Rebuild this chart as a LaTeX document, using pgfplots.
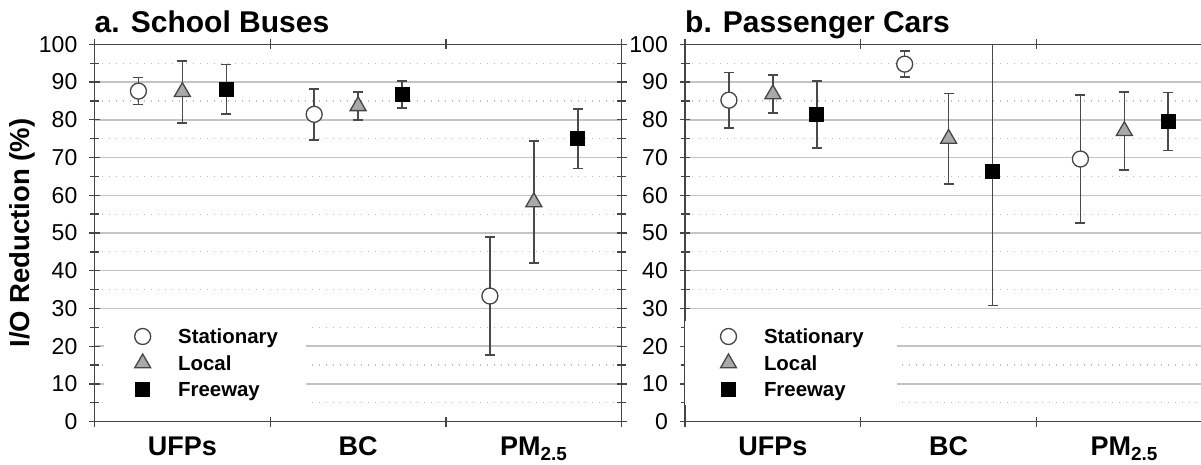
\documentclass[border=0pt]{standalone}
\usepackage{fontspec}
\setmainfont{Liberation Sans}
\usepackage{pgfplots}
\pgfplotsset{compat=1.18}
\definecolor{axisgray}{HTML}{454545}
\definecolor{gridgray}{HTML}{C4C4C4}
\definecolor{mingray}{HTML}{BDBDBD}
\definecolor{errgray}{HTML}{4A4A4A}
\definecolor{trigray}{HTML}{A9A9A9}
\pgfplotsset{
  panel/.style={
    scale only axis, width=527.2pt, height=377.4pt,
    xmin=0, xmax=3, ymin=0, ymax=100,
    xtick={0,1,2,3}, xticklabels={UFPs,BC,PM\textsubscript{2.5}},
    x tick label as interval,
    ytick={0,10,...,100}, minor ytick={5,15,...,95},
    ymajorgrids, yminorgrids,
    major grid style={draw=gridgray, line width=1.5pt},
    minor grid style={draw=mingray, line width=1.2pt, dash pattern=on 1.4pt off 5.6pt},
    axis line style={draw=axisgray, line width=1.5pt},
    tick style={draw=axisgray, line width=1.3pt},
    major tick length=10pt, minor tick length=9pt, tick align=center,
    /pgf/number format/assume math mode=true,
    yticklabel style={font=\fontsize{23}{23}\selectfont, inner xsep=0pt, xshift=-12pt},
    xticklabel style={font=\fontsize{27}{27}\selectfont\bfseries, text height=19.5pt, inner sep=0pt, yshift=-9pt},
    error bars/y dir=both, error bars/y explicit,
    error bars/error bar style={draw=errgray, line width=1.6pt},
    error bars/error mark options={rotate=90, draw=errgray, line width=1.6pt, mark size=5pt},
    legend style={fill=white, draw=none, anchor=south west, inner ysep=5pt,
      font=\fontsize{20.4}{20.4}\selectfont\bfseries, cells={anchor=west},
      nodes={inner sep=0pt, text height=17pt, text depth=3pt}, row sep=6.7pt,
      /tikz/every odd column/.append style={column sep=25.5pt}},
    legend image code/.code={\path[draw=none, fill=none] (-10pt,-8pt) rectangle (10pt,8pt); \draw[##1] plot coordinates {(0pt,0pt)};},
  },
  stat/.style={only marks, mark=*, mark size=8pt, mark options={fill=white, draw=axisgray, line width=1.3pt}},
  loc/.style={only marks, mark=triangle*, mark size=9.2pt, mark options={fill=trigray, draw=axisgray, line width=1.3pt}},
  free/.style={only marks, mark=square*, mark size=7pt, mark options={fill=black, draw=black, line width=1pt}},
}
\begin{document}
\begin{tikzpicture}
\begin{axis}[panel, at={(94.5pt,42.3pt)}, anchor=south west,
  ylabel={I/O Reduction (\%)},
  every axis y label/.style={at={(axis description cs:-0.137,0.5)}, rotate=90, anchor=center, font=\fontsize{27.5}{27.5}\selectfont\bfseries},
  legend style={at={(axis description cs:0.018,0.044)}, inner xsep=28.5pt}]
\addplot[stat] table[x=x, y=y, y error=e] {
x y e
0.25 87.6 3.6
1.25 81.45 6.75
2.25 33.3 15.7
};
\addlegendentry{Stationary}
\addplot[loc] table[x=x, y=y, y error=e] {
x y e
0.5 87.4 8.2
1.5 83.65 3.75
2.5 58.2 16.2
};
\addlegendentry{Local}
\addplot[free] table[x=x, y=y, y error=e] {
x y e
0.75 88.1 6.6
1.75 86.75 3.55
2.75 75.0 7.9
};
\addlegendentry{Freeway}
\end{axis}
\begin{axis}[panel, at={(685pt,42.3pt)}, anchor=south west,
  legend style={at={(axis description cs:0.0,0.044)}, inner xsep=33.3pt}]
\addplot[stat] table[x=x, y=y, y error=e] {
x y e
0.25 85.2 7.3
1.25 94.75 3.45
2.25 69.6 16.9
};
\addlegendentry{Stationary}
\addplot[loc] table[x=x, y=y, y error=e] {
x y e
0.5 86.8 5.0
1.5 75.0 12.0
2.5 77.05 10.35
};
\addlegendentry{Local}
\addplot[free] table[x=x, y=y, y error=e] {
x y e
0.75 81.45 8.85
1.75 66.4 35.6
2.75 79.55 7.65
};
\addlegendentry{Freeway}
\end{axis}
\node[anchor=base west, inner sep=0pt, font=\fontsize{30}{30}\selectfont\bfseries] at (94.5pt,431pt) {a. School Buses};
\node[anchor=base west, inner sep=0pt, font=\fontsize{30}{30}\selectfont\bfseries] at (685pt,431pt) {b. Passenger Cars};
\pgfresetboundingbox
\useasboundingbox (0pt,0pt) rectangle (1201pt,464pt);
\end{tikzpicture}
\end{document}
